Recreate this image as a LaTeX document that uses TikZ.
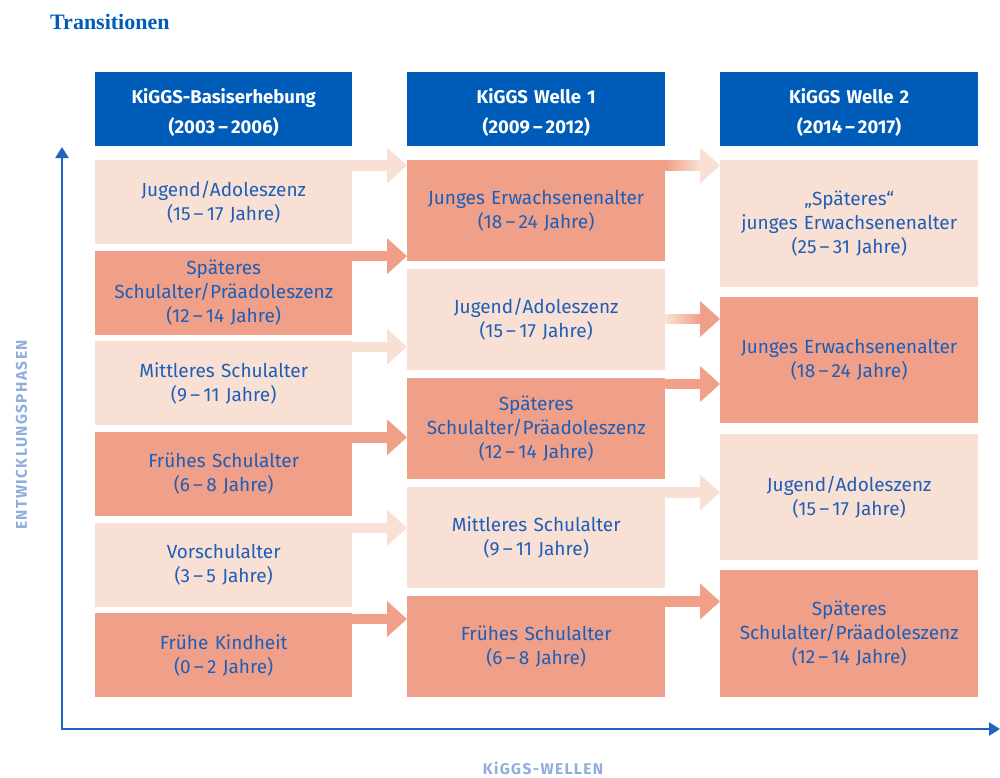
\documentclass[tikz,border=0pt]{standalone}
\usepackage{fontspec}
\setmainfont{Fira Sans}
\newfontfamily\titlefont{Liberation Serif}
\usetikzlibrary{arrows.meta,calc}
\definecolor{headblue}{RGB}{0,92,185}
\definecolor{darkbox}{RGB}{240,160,136}
\definecolor{lightbox}{RGB}{249,224,213}
\definecolor{textblue}{RGB}{29,94,184}
\definecolor{axisblue}{RGB}{30,100,192}
\definecolor{labelblue}{RGB}{143,174,219}
\tikzset{
  header/.style={fill=headblue, text=white, font=\fontsize{18.5}{30}\selectfont\bfseries, anchor=north west, minimum height=74pt, align=center, inner sep=0pt},
  phase/.style={text=textblue, font=\fontsize{19}{24}\selectfont, anchor=north west, align=center, inner sep=0pt},
  dk/.style={phase, fill=darkbox},
  lt/.style={phase, fill=lightbox},
  axisline/.style={draw=axisblue, line width=2.4pt},
  axislabel/.style={text=labelblue, font=\fontsize{15.5}{16}\selectfont\bfseries\addfontfeatures{LetterSpace=9}, inner sep=0pt}
}
\newcommand\down[1]{\raisebox{-3.5pt}[\height][\depth]{#1}}
% #1 source, #2 target, #3 offset below source top, #4 start colour, #5 end colour
\newcommand\trarrow[5]{%
  \coordinate (s) at ($(#1.north east)+(0,#3)$);
  \coordinate (t) at (#2.west |- s);
  \shade[left color=#4, right color=#5] ($(s)+(0,-4.7)$) rectangle ($(t)+(-20,4.7)$);
  \fill[#5] ($(t)+(-20,-18)$) -- (t) -- ($(t)+(-20,18)$) -- cycle;
}
\begin{document}
\begin{tikzpicture}[x=1pt,y=-1pt]
\useasboundingbox (0,0) rectangle (1000,777);
% title
\node[anchor=west, text=headblue, font=\titlefont\fontsize{22}{24}\selectfont\bfseries, inner sep=0pt] (title) at (50,22) {Transitionen};
% headers
\node[header, text width=257pt] (h1) at (95,72) {\down{\begin{tabular}{c}KiGGS-Basiserhebung\\(2003\,–\,2006)\end{tabular}}};
\node[header, text width=258pt] (h2) at (407,72) {\down{\begin{tabular}{c}KiGGS Welle 1\\(2009\,–\,2012)\end{tabular}}};
\node[header, text width=258pt] (h3) at (720,72) {\down{\begin{tabular}{c}KiGGS Welle 2\\(2014\,–\,2017)\end{tabular}}};
% column 1
\tikzset{c1/.style={text width=257pt, minimum height=84pt}}
\node[lt,c1] (a1) at (95,160) {Jugend/Adoleszenz\\(15\,–\,17 Jahre)};
\node[dk,c1] (a2) at (95,250.6) {Späteres\\Schulalter/Präadoleszenz\\(12\,–\,14 Jahre)};
\node[lt,c1] (a3) at (95,341.2) {Mittleres Schulalter\\(9\,–\,11 Jahre)};
\node[dk,c1] (a4) at (95,431.8) {Frühes Schulalter\\(6\,–\,8 Jahre)};
\node[lt,c1] (a5) at (95,522.4) {Vorschulalter\\(3\,–\,5 Jahre)};
\node[dk,c1] (a6) at (95,613) {Frühe Kindheit\\(0\,–\,2 Jahre)};
% column 2
\tikzset{c2/.style={text width=258pt, minimum height=101pt}}
\node[dk,c2] (b1) at (407,160) {Junges Erwachsenenalter\\(18\,–\,24 Jahre)};
\node[lt,c2] (b2) at (407,269) {Jugend/Adoleszenz\\(15\,–\,17 Jahre)};
\node[dk,c2] (b3) at (407,378) {Späteres\\Schulalter/Präadoleszenz\\(12\,–\,14 Jahre)};
\node[lt,c2] (b4) at (407,487) {Mittleres Schulalter\\(9\,–\,11 Jahre)};
\node[dk,c2] (b5) at (407,596) {Frühes Schulalter\\(6\,–\,8 Jahre)};
% column 3
\tikzset{c3/.style={text width=258pt, minimum height=126.5pt}}
\node[lt,c3] (c1) at (720,160) {„Späteres“\\junges Erwachsenenalter\\(25\,–\,31 Jahre)};
\node[dk,c3] (c2) at (720,296.7) {Junges Erwachsenenalter\\(18\,–\,24 Jahre)};
\node[lt,c3] (c3) at (720,433.3) {Jugend/Adoleszenz\\(15\,–\,17 Jahre)};
\node[dk,c3] (c4) at (720,570) {Späteres\\Schulalter/Präadoleszenz\\(12\,–\,14 Jahre)};
% arrows column 1 -> 2
\trarrow{a1}{b1}{5.5}{lightbox}{lightbox}
\trarrow{a2}{b1}{5.5}{darkbox}{darkbox}
\trarrow{a3}{b2}{5.5}{lightbox}{lightbox}
\trarrow{a4}{b3}{5.5}{darkbox}{darkbox}
\trarrow{a5}{b4}{5.5}{lightbox}{lightbox}
\trarrow{a6}{b5}{6}{darkbox}{darkbox}
% arrows column 2 -> 3
\trarrow{b1}{c1}{5.5}{darkbox}{lightbox}
\trarrow{b2}{c2}{50}{lightbox}{darkbox}
\trarrow{b3}{c2}{6}{darkbox}{darkbox}
\trarrow{b4}{c3}{5.5}{lightbox}{lightbox}
\trarrow{b5}{c4}{5.5}{darkbox}{darkbox}
% axes
\coordinate (ytop) at (62,147);
\coordinate (origin) at (62,729);
\coordinate (xend) at (1000,729);
\draw[axisline, {Triangle[width=13pt,length=11pt]}-{Triangle[width=13pt,length=11pt]}] (ytop) -- (origin) -- (xend);
\node[axislabel, rotate=90] (ylab) at (21.5,435) {ENTWICKLUNGSPHASEN};
\node[axislabel] (xlab) at (543,768) {KiGGS-WELLEN};
\end{tikzpicture}
\end{document}
